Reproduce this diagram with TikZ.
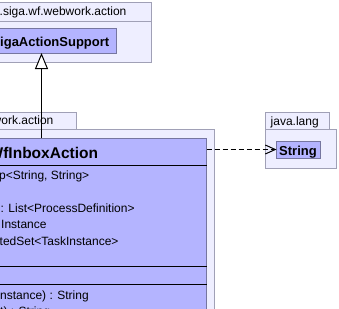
\documentclass[tikz,border=0pt]{standalone}
\usepackage{fontspec}
\setmainfont{Liberation Sans}
\usetikzlibrary{arrows.meta}
\definecolor{pkgfill}{RGB}{238,238,255}
\definecolor{pkgline}{RGB}{160,160,182}
\definecolor{clsfill}{RGB}{180,180,255}
\definecolor{clsline}{RGB}{118,118,160}
\begin{document}
\begin{tikzpicture}[x=1pt,y=-1pt,
  frame/.style={inner sep=0pt,outer sep=0pt,anchor=north west,line width=1pt},
  pkg/.style={frame,draw=pkgline,fill=pkgfill},
  cls/.style={frame,draw=clsline,fill=clsfill},
  txt/.style={inner sep=0pt,anchor=base west,font=\fontsize{12}{14}\selectfont},
  bname/.style={inner sep=0pt,anchor=base west,font=\fontsize{13}{15}\selectfont\bfseries},
  title/.style={inner sep=0pt,anchor=base west,font=\fontsize{15.5}{18}\selectfont\bfseries},
  sepline/.style={line width=1pt,draw=black},
  generalization/.style={line width=1pt,-{Triangle[open,length=16pt,width=13pt,fill=white]}},
  dependency/.style={line width=1pt,dash pattern=on 5pt off 3pt,-{Straight Barb[length=10pt,width=9pt]}}]
\useasboundingbox (0,0) rectangle (339,308);
\clip (0,0) rectangle (339,308);
\fill[white] (0,0) rectangle (339,308);

% package siga.wf.webwork.action
\node[pkg,minimum width=161pt,minimum height=19pt] (tabA) at (-10,2) {};
\node[pkg,minimum width=161pt,minimum height=41pt] (pkgA) at (-10,21) {};
\node[txt] (tabAtext) at (-0.5,15.8) {.siga.wf.webwork.action};
\node[cls,minimum width=126pt,minimum height=24.5pt] (sup) at (-10,28.5) {};
\node[bname] (supname) at (0,46.3) {igaActionSupport};

% package ...work.action
\node[pkg,minimum width=86pt,minimum height=17pt] (tabB) at (-10,112) {};
\node[pkg,minimum width=224pt,minimum height=210pt] (pkgB) at (-10,129) {};
\node[txt] (tabBtext) at (-7.5,124.8) {work.action};
\node[cls,minimum width=216.5pt,minimum height=200pt] (inbox) at (-10,138) {};
\node[title] (inboxname) at (-11.5,158.3) {WfInboxAction};
\coordinate (sepA) at (0,165.5);
\coordinate (sepB) at (0,266);
\coordinate (sepC) at (0,284.5);
\draw[sepline] (inbox.west |- sepA) -- (inbox.east |- sepA);
\draw[sepline] (inbox.west |- sepB) -- (inbox.east |- sepB);
\draw[sepline] (inbox.west |- sepC) -- (inbox.east |- sepC);
\node[txt] (attrA) at (-1,179) {p<String, String>};
\node[txt] (attrB) at (0.5,212.2) {: List<ProcessDefinition>};
\node[txt] (attrC) at (1,228.8) {Instance};
\node[txt] (attrD) at (-0.5,245.4) {tedSet<TaskInstance>};
\node[txt] (opA) at (0,299) {nstance) : String};
\node[txt] (opB) at (0,315.6) {t) : String};

% package java.lang
\node[pkg,minimum width=64pt,minimum height=17pt] (tabC) at (265,112) {};
\node[pkg,minimum width=71pt,minimum height=39pt] (pkgC) at (265,129) {};
\node[txt] (tabCtext) at (270.5,125) {java.lang};
\node[cls,minimum width=43.5pt,minimum height=17pt] (str) at (276.5,141.5) {};
\node[bname] (strname) at (279,155) {String};

% relations
\coordinate (genx) at (41.5,0);
\coordinate (depy) at (0,149.5);
\draw[generalization] (inbox.north -| genx) -- (sup.south -| genx);
\draw[dependency] (inbox.east |- depy) -- (str.west |- depy);
\end{tikzpicture}
\end{document}
